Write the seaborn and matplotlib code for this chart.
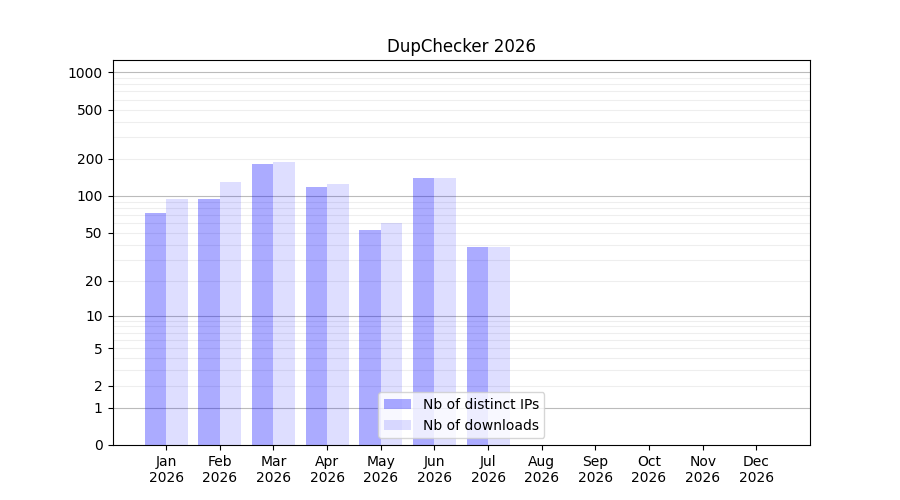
import numpy as np
import pandas as pd
import matplotlib
matplotlib.use('Agg')
import matplotlib.pyplot as plt
from matplotlib.colors import to_rgba
import seaborn as sns

months = ['Jan', 'Feb', 'Mar', 'Apr', 'May', 'Jun', 'Jul', 'Aug', 'Sep', 'Oct', 'Nov', 'Dec']
year = '2026'
distinct_ips = [72, 95, 180, 119, 53, 141, 38, 0, 0, 0, 0, 0]
downloads = [94, 129, 187, 126, 60, 141, 38, 0, 0, 0, 0, 0]
series_names = ['Nb of distinct IPs', 'Nb of downloads']
ytick_values = [0, 1, 2, 5, 10, 20, 50, 100, 200, 500, 1000]
decades = [1, 10, 100, 1000]

df = pd.DataFrame({
    'month': months * 2,
    'count': distinct_ips + downloads,
    'series': [series_names[0]] * 12 + [series_names[1]] * 12,
})

fig, ax = plt.subplots(figsize=(9, 5), dpi=100)

sns.barplot(data=df, x='month', y='count', hue='series', order=months,
            hue_order=series_names, errorbar=None, width=0.8, ax=ax,
            legend=False)

# semi transparent blue, grid shows through
alphas = [0.33, 0.13]
for cont, a in zip(ax.containers, alphas):
    for p in cont:
        p.set_facecolor(to_rgba('blue', a))
        p.set_edgecolor('none')

# log(x+1) scale so that 0 can be shown
ax.set_yscale('function', functions=(lambda v: np.log10(np.clip(v, 0, None) + 1),
                                     lambda v: 10 ** v - 1))
ax.set_ylim(0, 1254)
ax.set_xlim(-1, 12)

ax.set_yticks(ytick_values)
ax.set_yticklabels([str(v) for v in ytick_values])
minor = [m * d for d in (1, 10, 100) for m in range(2, 10)]
ax.set_yticks(minor, minor=True)
ax.tick_params(axis='y', which='minor', length=0)

ax.grid(True, axis='y', which='major', color='#bbbbbb', linewidth=0.8)
ax.grid(True, axis='y', which='minor', color='#eeeeee', linewidth=0.8)
# only the decades get the darker line
for val, line in zip(ytick_values, ax.get_ygridlines()):
    if val == 0:
        line.set_visible(False)
    elif val not in decades:
        line.set_color('#eeeeee')
ax.set_axisbelow(True)

ax.set_xticks(range(12))
ax.set_xticklabels([f'{m}\n{year}' for m in months])
ax.set_xlabel('')
ax.set_ylabel('')
ax.set_title('DupChecker 2026')

ax.legend(ax.containers, series_names, loc='lower center')

plt.savefig('out.png', dpi=100)
